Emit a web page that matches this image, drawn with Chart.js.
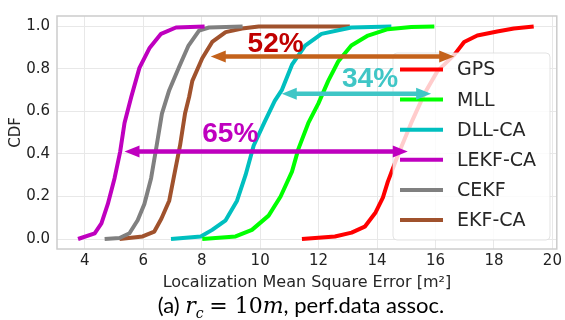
<!DOCTYPE html>
<html>
<head>
<meta charset="utf-8">
<script src="https://cdn.jsdelivr.net/npm/chart.js@4.4.1/dist/chart.umd.min.js"></script>
<style>
  html, body { margin: 0; padding: 0; background: #fff; }
  #wrap { position: relative; width: 565px; height: 320px; }
  #caption {
    position: absolute; left: 0; width: 602px; top: 291px;
    text-align: center; font-family: Lato, "Liberation Sans", sans-serif;
    font-size: 22px; color: #000; white-space: nowrap;
  }
  #caption .m { font-family: "DejaVu Serif", serif; font-style: italic; }
  #caption .n { font-family: "DejaVu Serif", serif; }
  #caption sub { font-size: 14px; }
</style>
</head>
<body>
<div id="wrap">
  <canvas id="cdf-chart" width="565" height="320"></canvas>
  <div id="caption">(a) <span class="m">r<sub>c</sub></span> <span class="n">= 10</span><span class="m">m</span>, perf.data assoc.</div>
</div>
<script>
// series labels and colours
const labels = ["GPS", "MLL", "DLL-CA", "LEKF-CA", "CEKF", "EKF-CA"];
const colors = ["#ff0000", "#00ff00", "#00bfbf", "#bf00bf", "#808080", "#a0522d"];

// CDF curves: error values and cumulative fraction
const gpsErr = [11.43, 12.56, 13.13, 13.58, 13.95, 14.2, 14.37, 14.71, 15.17, 15.62, 16.07, 16.64, 16.98, 17.43, 18.11, 18.68, 19.36];
const gpsCdf = [0, 0.012, 0.03, 0.058, 0.125, 0.195, 0.27, 0.393, 0.546, 0.683, 0.79, 0.866, 0.927, 0.957, 0.976, 0.99, 1.0];

const mllErr = [8.02, 9.16, 9.72, 10.29, 10.7, 11.09, 11.31, 11.65, 11.99, 12.33, 12.67, 13.12, 13.69, 14.37, 15.17, 15.96];
const mllCdf = [0, 0.012, 0.043, 0.11, 0.2, 0.317, 0.424, 0.546, 0.637, 0.744, 0.835, 0.91, 0.957, 0.987, 0.997, 1.0];

const dllErr = [6.95, 7.97, 8.36, 8.82, 9.21, 9.5, 9.78, 10.15, 10.5, 10.74, 11.09, 11.54, 12.1, 13.12, 14.49];
const dllCdf = [0, 0.012, 0.043, 0.088, 0.18, 0.30, 0.44, 0.55, 0.65, 0.70, 0.82, 0.91, 0.965, 0.995, 1.0];

const lekfErr = [3.77, 4.34, 4.57, 4.79, 5.02, 5.21, 5.36, 5.59, 5.87, 6.21, 6.61, 7.12, 8.1];
const lekfCdf = [0, 0.027, 0.073, 0.165, 0.286, 0.41, 0.546, 0.668, 0.805, 0.897, 0.965, 0.995, 1.0];

const cekfErr = [4.68, 5.19, 5.53, 5.81, 6.04, 6.27, 6.46, 6.64, 6.89, 7.23, 7.55, 7.91, 8.25, 9.4];
const cekfCdf = [0, 0.005, 0.027, 0.088, 0.165, 0.286, 0.44, 0.59, 0.70, 0.81, 0.91, 0.98, 0.995, 1.0];

const ekfErr = [5.19, 5.98, 6.38, 6.62, 6.89, 7.06, 7.26, 7.43, 7.57, 7.68, 8.02, 8.36, 8.82, 9.38, 9.95, 13.07];
const ekfCdf = [0, 0.012, 0.035, 0.095, 0.18, 0.3, 0.44, 0.59, 0.668, 0.744, 0.85, 0.927, 0.973, 0.99, 1.0, 1.0];

const errSeries = [gpsErr, mllErr, dllErr, lekfErr, cekfErr, ekfErr];
const cdfSeries = [gpsCdf, mllCdf, dllCdf, lekfCdf, cekfCdf, ekfCdf];

// improvement arrows: cdf level, from / to error, and the percentage text
const arrowCdf = [0.858, 0.683, 0.412];
const arrowFrom = [8.31, 10.74, 5.36];
const arrowTo = [16.64, 15.85, 15.05];
const arrowText = ["52%", "34%", "65%"];
const arrowTextX = [10.53, 13.76, 8.98];
const arrowTextY = [0.92, 0.758, 0.495];
const arrowColors = ["#c4621b", "#3fc6c6", "#bf00bf"];
const textColors = ["#c00000", "#3fc6c6", "#bf00bf"];

const xTicks = [4, 6, 8, 10, 12, 14, 16, 18, 20];
const yTicks = [0.0, 0.2, 0.4, 0.6, 0.8, 1.0];

const datasets = labels.map(function(name, i) {
  return {
    label: name,
    data: errSeries[i].map(function(v, k) { return { x: v, y: cdfSeries[i][k] }; }),
    borderColor: colors[i],
    backgroundColor: colors[i],
    borderWidth: 4,
    borderJoinStyle: "round",
    pointRadius: 0,
    showLine: true,
    tension: 0,
    fill: false
  };
});

function drawArrow(ctx, x1, x2, y, color) {
  const head = 15, half = 6;
  ctx.strokeStyle = color;
  ctx.fillStyle = color;
  ctx.lineWidth = 4.5;
  ctx.beginPath();
  ctx.moveTo(x1 + head - 1, y);
  ctx.lineTo(x2 - head + 1, y);
  ctx.stroke();
  ctx.beginPath();
  ctx.moveTo(x1, y);
  ctx.lineTo(x1 + head, y - half);
  ctx.lineTo(x1 + head, y + half);
  ctx.closePath();
  ctx.fill();
  ctx.beginPath();
  ctx.moveTo(x2, y);
  ctx.lineTo(x2 - head, y - half);
  ctx.lineTo(x2 - head, y + half);
  ctx.closePath();
  ctx.fill();
}

// frame, legend box (drawn over the curves) and the arrows on top
const overlay = {
  id: "overlay",
  afterDatasetsDraw(chart) {
    const ctx = chart.ctx;
    const a = chart.chartArea;
    const xs = chart.scales.x, ys = chart.scales.y;
    ctx.save();

    ctx.strokeStyle = "#cccccc";
    ctx.lineWidth = 1.5;
    ctx.strokeRect(a.left, a.top, a.right - a.left, a.bottom - a.top);

    // legend
    const lx = 393, ly = 53, lw = 157, lh = 187;
    ctx.beginPath();
    ctx.roundRect(lx, ly, lw, lh, 4);
    ctx.fillStyle = "rgba(255,255,255,0.8)";
    ctx.fill();
    ctx.strokeStyle = "rgba(220,220,220,0.8)";
    ctx.lineWidth = 1;
    ctx.stroke();
    ctx.font = "19px 'DejaVu Sans'";
    ctx.textBaseline = "middle";
    ctx.textAlign = "left";
    labels.forEach(function(name, i) {
      const yy = 69.5 + i * 30.1;
      ctx.strokeStyle = colors[i];
      ctx.lineWidth = 4;
      ctx.beginPath();
      ctx.moveTo(400, yy);
      ctx.lineTo(443, yy);
      ctx.stroke();
      ctx.fillStyle = "#262626";
      ctx.fillText(name, 457, yy + 1);
    });

    // arrows and percentages
    arrowCdf.forEach(function(c, i) {
      drawArrow(ctx, xs.getPixelForValue(arrowFrom[i]), xs.getPixelForValue(arrowTo[i]),
        ys.getPixelForValue(c), arrowColors[i]);
    });
    ctx.font = "bold 28px 'Liberation Sans'";
    ctx.textAlign = "center";
    ctx.textBaseline = "middle";
    arrowText.forEach(function(t, i) {
      ctx.fillStyle = textColors[i];
      ctx.fillText(t, xs.getPixelForValue(arrowTextX[i]), ys.getPixelForValue(arrowTextY[i]) + 1);
    });
    ctx.restore();
  }
};

const ctx = document.getElementById("cdf-chart").getContext("2d");

const chart = new Chart(ctx, {
  type: "scatter",
  data: { datasets: datasets },
  options: {
    responsive: false,
    animation: false,
    layout: { padding: { top: 10, right: 6, left: 0, bottom: 0 } },
    plugins: {
      legend: { display: false },
      tooltip: { enabled: false }
    },
    scales: {
      x: {
        type: "linear",
        min: 3.05,
        max: 20.15,
        afterFit: function(scale) { scale.height = 71; },
        afterBuildTicks: function(scale) { scale.ticks = xTicks.map(function(v) { return { value: v }; }); },
        grid: { color: "#e8e8e8", lineWidth: 1, drawTicks: false },
        border: { display: false },
        ticks: {
          padding: 3,
          color: "#222",
          font: { family: "DejaVu Sans", size: 15 },
          maxRotation: 0,
          callback: function(v) { return v; }
        },
        title: {
          display: true,
          text: "Localization Mean Square Error [m\u00b2]",
          color: "#262626",
          font: { family: "DejaVu Sans", size: 16 },
          padding: { top: 0, bottom: 28 }
        }
      },
      y: {
        type: "linear",
        min: -0.047,
        max: 1.049,
        afterFit: function(scale) { scale.width = 57; },
        afterBuildTicks: function(scale) { scale.ticks = yTicks.map(function(v) { return { value: v }; }); },
        grid: { color: "#e8e8e8", lineWidth: 1, drawTicks: false },
        border: { display: false },
        ticks: {
          padding: 7,
          color: "#222",
          font: { family: "DejaVu Sans", size: 15 },
          callback: function(v) { return v.toFixed(1); }
        },
        title: {
          display: true,
          text: "CDF",
          color: "#262626",
          font: { family: "DejaVu Sans", size: 15 },
          padding: { top: 7, bottom: 0 }
        }
      }
    }
  },
  plugins: [overlay]
});
</script>
</body>
</html>
